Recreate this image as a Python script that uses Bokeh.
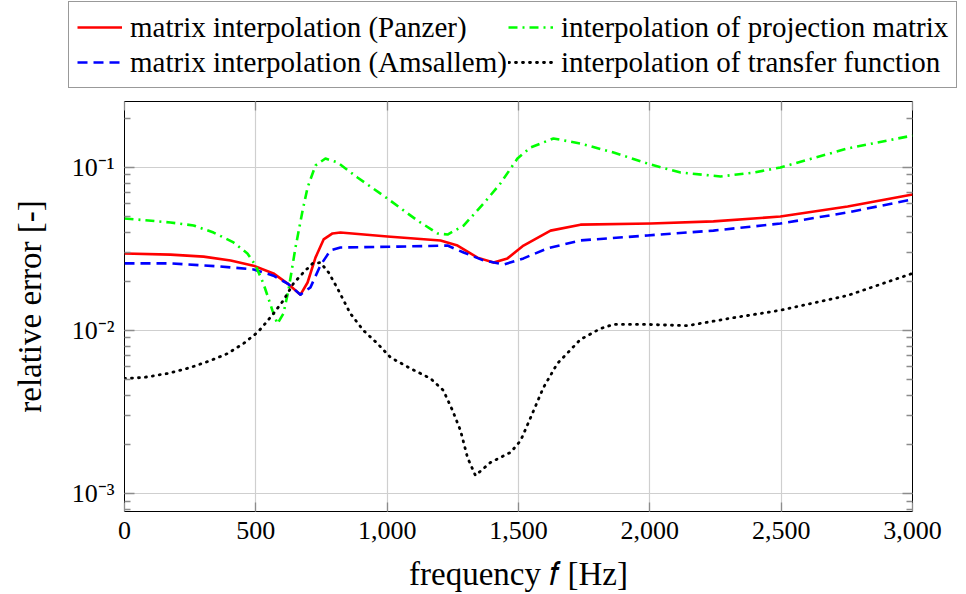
from bokeh.plotting import figure
from bokeh.layouts import column
from bokeh.models import (FixedTicker, LogAxis, LinearAxis, Legend, LegendItem,
                          CustomJSTickFormatter, Range1d, NumeralTickFormatter)
from bokeh.embed import file_html
from bokeh.resources import INLINE

# ---- data ----
f_panzer = [0, 175, 301, 404, 491, 567, 621, 670, 697, 727, 758, 792, 822, 1001, 1203, 1268,
            1344, 1405, 1458, 1519, 1622, 1736, 2003, 2242, 2497, 2753, 3000]
e_panzer = [0.0297, 0.0292, 0.0284, 0.0269, 0.0250, 0.0224, 0.0194, 0.0166, 0.0197, 0.0280,
            0.0362, 0.0394, 0.0399, 0.0377, 0.0357, 0.0332, 0.0280, 0.0261, 0.0277, 0.0332,
            0.0410, 0.0446, 0.0453, 0.0467, 0.0500, 0.0577, 0.0683]

f_amsallem = [0, 175, 365, 491, 567, 621, 670, 708, 746, 784, 822, 1039, 1230, 1291, 1367,
              1443, 1519, 1610, 1736, 1991, 2242, 2497, 2753, 3000]
e_amsallem = [0.0258, 0.0258, 0.0247, 0.0237, 0.0217, 0.0194, 0.0166, 0.0184, 0.0251, 0.0310,
              0.0323, 0.0327, 0.0332, 0.0301, 0.0269, 0.0254, 0.0277, 0.0319, 0.0357, 0.0383,
              0.0410, 0.0453, 0.0530, 0.0637]

f_projection = [0, 175, 263, 339, 415, 468, 499, 529, 563, 582, 605, 624, 651, 678, 697, 727,
                765, 811, 887, 1001, 1115, 1192, 1230, 1291, 1367, 1431, 1496, 1546, 1633,
                1736, 1862, 2003, 2117, 2269, 2395, 2497, 2753, 3000]
e_projection = [0.0487, 0.0460, 0.0441, 0.0399, 0.0347, 0.0297, 0.0251, 0.0194, 0.0133, 0.0110,
                0.0127, 0.0176, 0.0323, 0.0544, 0.0754, 0.1028, 0.1135, 0.1074, 0.0869, 0.0645,
                0.0473, 0.0394, 0.0388, 0.0440, 0.0601, 0.0798, 0.1135, 0.1327, 0.1507, 0.1403,
                0.1236, 0.1043, 0.0931, 0.0881, 0.0931, 0.1000, 0.1309, 0.1570]

f_transfer = [0, 72, 164, 251, 327, 392, 453, 506, 529, 567, 605, 643, 678, 716, 746, 777, 811,
              860, 910, 963, 1013, 1089, 1165, 1214, 1249, 1279, 1306, 1336, 1393, 1470, 1508,
              1546, 1595, 1648, 1736, 1812, 1862, 1991, 2143, 2307, 2497, 2753, 3000]
e_transfer = [0.00508, 0.00515, 0.00545, 0.00593, 0.00654, 0.00722, 0.00832, 0.00973, 0.0107,
              0.0127, 0.0153, 0.0194, 0.0224, 0.0258, 0.0261, 0.0227, 0.0181, 0.0127, 0.0100,
              0.00832, 0.00683, 0.00585, 0.00508, 0.00429, 0.00323, 0.00244, 0.00166, 0.00129,
              0.00155, 0.00179, 0.00211, 0.00292, 0.00447, 0.00628, 0.00881, 0.01028, 0.0109,
              0.0109, 0.0107, 0.0119, 0.0133, 0.0164, 0.0224]

x_ticks = [0, 500, 1000, 1500, 2000, 2500, 3000]
y_ticks = [1e-3, 1e-2, 1e-1]
y_minor = [k * 10.0 ** d for d in (-4, -3, -2, -1) for k in range(2, 10)]

labels = ["matrix interpolation (Panzer)", "matrix interpolation (Amsallem)",
          "interpolation of projection matrix", "interpolation of transfer function"]
x_label = "frequency \U0001D453 [Hz]"
y_label = "relative error [-]"

SERIF = "Liberation Serif"
styles = [dict(line_color="#ff0000", line_width=2.6),
          dict(line_color="#0000ff", line_width=2.6, line_dash="10 6"),
          dict(line_color="#00ff00", line_width=2.6, line_dash="9 5 2 5"),
          dict(line_color="black", line_width=2.8, line_dash="1 6", line_cap="round")]
series = [(f_panzer, e_panzer), (f_amsallem, e_amsallem),
          (f_projection, e_projection), (f_transfer, e_transfer)]

# ---------------- main plot ----------------
p = figure(frame_width=788, frame_height=410, y_axis_type="log",
           x_range=Range1d(0, 3000), y_range=Range1d(7.76e-4, 0.254),
           output_backend="svg", toolbar_location=None,
           min_border_left=124, min_border_right=54, min_border_top=11, min_border_bottom=83)
p.background_fill_color = "white"
p.border_fill_color = "white"
p.outline_line_color = "black"
p.outline_line_width = 1

for (fx, ey), st in zip(series, styles):
    p.line(fx, ey, line_join="round", **st)

sup = CustomJSTickFormatter(code="""
const m = {'0':'\u2070','1':'\u00b9','2':'\u00b2','3':'\u00b3','4':'\u2074','5':'\u2075',
           '6':'\u2076','7':'\u2077','8':'\u2078','9':'\u2079','-':'\u207b'};
const e = Math.round(Math.log10(tick)).toString();
let s = '';
for (const c of e) { s += m[c]; }
return '10' + s;
""")
empty = CustomJSTickFormatter(code="return '';")

xa = p.xaxis[0]
xa.ticker = FixedTicker(ticks=x_ticks)
xa.formatter = NumeralTickFormatter(format="0,0")
ya = p.yaxis[0]
ya.ticker = FixedTicker(ticks=y_ticks, minor_ticks=y_minor)
ya.formatter = sup

right = LogAxis(ticker=FixedTicker(ticks=y_ticks, minor_ticks=y_minor), formatter=empty)
top = LinearAxis(ticker=FixedTicker(ticks=x_ticks), formatter=empty)
p.add_layout(right, "right")
p.add_layout(top, "above")

for ax in (xa, top):
    ax.major_tick_in = 9
    ax.major_tick_out = 0
    ax.minor_tick_in = 0
    ax.minor_tick_out = 0
for ax in (ya, right):
    ax.major_tick_in = 10
    ax.major_tick_out = 0
    ax.minor_tick_in = 6
    ax.minor_tick_out = 0
for ax in (xa, ya, top, right):
    ax.axis_line_color = None
    ax.major_tick_line_color = "#8c8c8c"
    ax.minor_tick_line_color = "#8c8c8c"
    ax.major_tick_line_width = 1.3
    ax.minor_tick_line_width = 1.3
    ax.major_label_text_font = SERIF
    ax.major_label_text_font_size = "26px"
    ax.major_label_text_color = "black"
    ax.major_label_standoff = 10
top.major_label_standoff = 0
right.major_label_standoff = 0

for ax, lab in ((ya, y_label), (xa, x_label)):
    ax.axis_label = lab
    ax.axis_label_text_font = SERIF
    ax.axis_label_text_font_size = "33px"
    ax.axis_label_text_font_style = "normal"
    ax.axis_label_text_color = "black"
ya.axis_label_standoff = 21
xa.axis_label_standoff = 14

p.xgrid.grid_line_color = "#cfcfcf"
p.ygrid.grid_line_color = "#cfcfcf"
p.xgrid.grid_line_width = 1.2
p.ygrid.grid_line_width = 1.2
p.xgrid.ticker = FixedTicker(ticks=x_ticks)
p.ygrid.ticker = FixedTicker(ticks=y_ticks)

# ---------------- legend strip ----------------
lg = figure(frame_width=966, frame_height=90, x_range=Range1d(0, 966), y_range=Range1d(0, 90),
            output_backend="svg", toolbar_location=None, min_border=0)
lg.axis.visible = False
lg.grid.visible = False
lg.outline_line_color = None
lg.background_fill_color = "white"
lg.border_fill_color = "white"
proxies = [lg.line(fx, ey, visible=False, **st) for (fx, ey), st in zip(series, styles)]

legend = Legend(items=[LegendItem(label=labels[0], renderers=[proxies[0]]),
                       LegendItem(label=labels[2], renderers=[proxies[2]]),
                       LegendItem(label=labels[1], renderers=[proxies[1]]),
                       LegendItem(label=labels[3], renderers=[proxies[3]])],
                location=(68, 2), orientation="horizontal", ncols=2)
legend.label_text_font = SERIF
legend.label_text_font_size = "29px"
legend.label_text_color = "black"
legend.glyph_width = 45
legend.glyph_height = 34
legend.label_height = 34
legend.label_standoff = 8
legend.spacing = 1
legend.padding = 8
legend.margin = 0
legend.border_line_color = "#333333"
legend.border_line_width = 1.2
legend.background_fill_color = "white"
legend.background_fill_alpha = 1
legend.inactive_fill_alpha = 0
lg.add_layout(legend)

layout = column(lg, p, spacing=0)
open("out.html", "w").write(file_html(layout, INLINE))
